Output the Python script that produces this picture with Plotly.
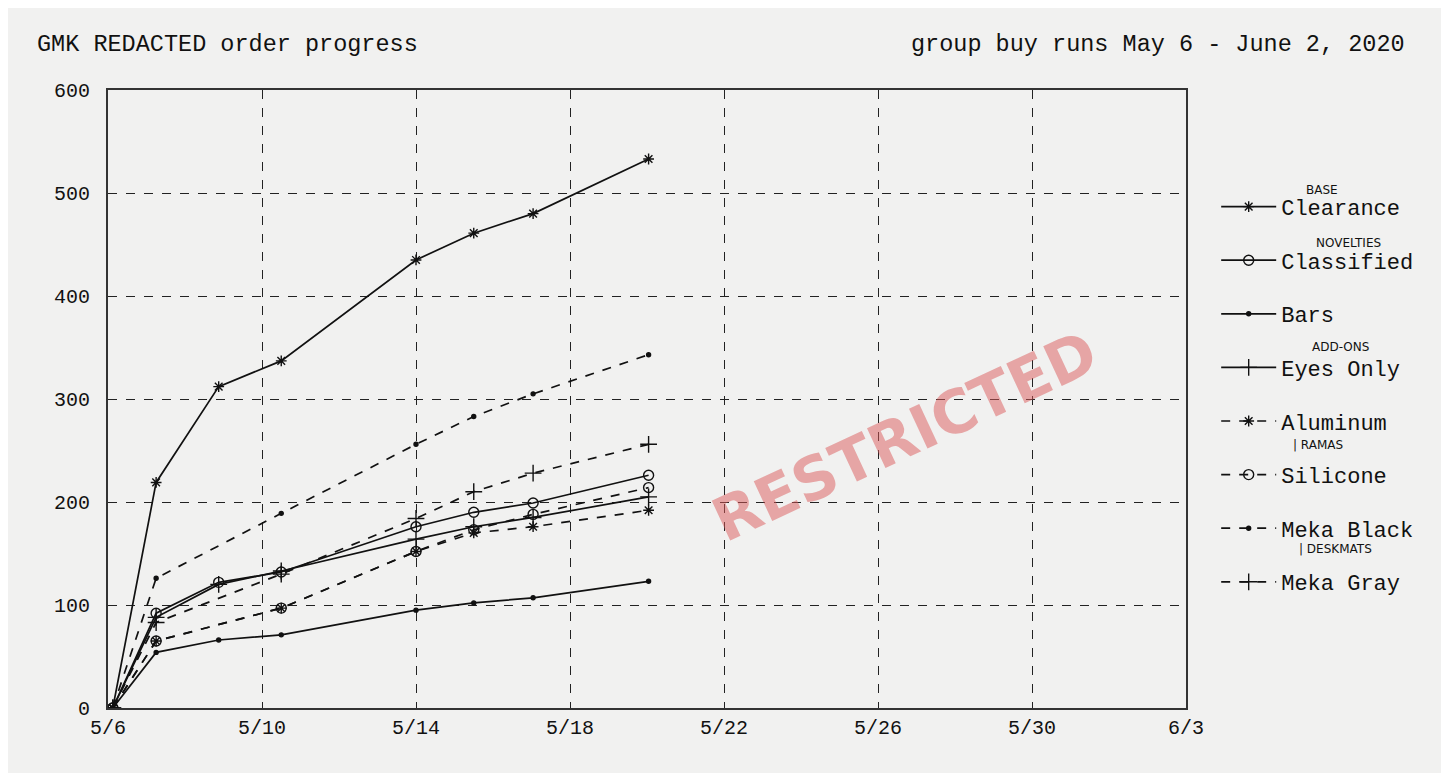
import plotly.graph_objects as go

dates_solid = ["2020-05-06 03:00", "2020-05-07 06:00", "2020-05-08 21:00", "2020-05-10 12:00",
               "2020-05-14 00:00", "2020-05-15 12:00", "2020-05-17 01:00", "2020-05-20 01:00"]
dates_dashed = ["2020-05-06 03:00", "2020-05-07 06:00", "2020-05-10 12:00",
                "2020-05-14 00:00", "2020-05-15 12:00", "2020-05-17 01:00", "2020-05-20 01:00"]

clearance = [0, 219, 312, 337, 435, 461, 480, 533]
classified = [0, 92, 122, 132, 176, 190, 199, 226]
bars = [0, 54, 66, 71, 95, 102, 107, 123]
eyes_only = [0, 88, 120, 133, 164, 176, 185, 205]
aluminum = [0, 65, 97, 152, 170, 176, 192]
silicone = [0, 65, 97, 152, 173, 188, 214]
meka_black = [0, 126, 189, 256, 283, 305, 343]
meka_gray = [0, 83, 130, 184, 210, 228, 256]

series = [
    ("Clearance", dates_solid, clearance, "solid", "asterisk-open", 9),
    ("Classified", dates_solid, classified, "solid", "circle-open", 10),
    ("Bars", dates_solid, bars, "solid", "circle", 4),
    ("Eyes Only", dates_solid, eyes_only, "solid", "cross-thin-open", 12),
    ("Aluminum", dates_dashed, aluminum, "dash", "asterisk-open", 9),
    ("Silicone", dates_dashed, silicone, "dash", "circle-open", 10),
    ("Meka Black", dates_dashed, meka_black, "dash", "circle", 4),
    ("Meka Gray", dates_dashed, meka_gray, "dash", "cross-thin-open", 12),
]

FONT = "Liberation Mono"
fig = go.Figure()
for name, x, y, dash, sym, sz in series:
    fig.add_trace(go.Scatter(
        x=x, y=y, name=name, legendgroup=name, mode="lines+markers",
        line=dict(color="#111", width=1.7, dash=dash),
        marker=dict(symbol=sym, size=sz, color="#111", line=dict(color="#111", width=1.4)),
    ))

fig.update_layout(
    width=1449, height=773,
    margin=dict(l=100, r=271, t=82, b=73),
    paper_bgcolor="#f1f1f0", plot_bgcolor="#f1f1f0",
    font=dict(family=FONT, size=20, color="#111"),
    legend=dict(x=1.028, y=0.845, yanchor="top", xanchor="left",
                bgcolor="rgba(0,0,0,0)", tracegroupgap=22,
                font=dict(size=22, family=FONT), itemwidth=55),
    showlegend=True,
)
fig.update_xaxes(
    type="date", range=["2020-05-06", "2020-06-03"],
    tickvals=["2020-05-06", "2020-05-10", "2020-05-14", "2020-05-18", "2020-05-22",
              "2020-05-26", "2020-05-30", "2020-06-03"],
    tickformat="%-m/%-d",
    showgrid=True, gridcolor="#222", griddash="dash", gridwidth=1,
    showline=True, linecolor="#333", linewidth=2, mirror=True,
    ticks="", tickfont=dict(size=20), zeroline=False,
)
fig.update_yaxes(
    range=[0, 600], dtick=100,
    showgrid=True, gridcolor="#222", griddash="dash", gridwidth=1,
    showline=True, linecolor="#333", linewidth=2, mirror=True,
    ticks="", tickfont=dict(size=20), zeroline=False, ticklabelstandoff=12,
)

fig.add_annotation(text="GMK REDACTED order progress", xref="paper", yref="paper",
                   x=-0.068, y=1.073, xanchor="left", yanchor="middle", showarrow=False,
                   font=dict(size=23.5, family=FONT))
fig.add_annotation(text="group buy runs May 6 - June 2, 2020", xref="paper", yref="paper",
                   x=1.205, y=1.073, xanchor="right", yanchor="middle", showarrow=False,
                   font=dict(size=23.5, family=FONT))
fig.add_annotation(text="<b>RESTRICTED</b>", xref="paper", yref="paper",
                   x=0.93, y=0.44, showarrow=False, textangle=-25,
                   font=dict(size=60, family="DejaVu Sans", color="rgba(220,90,90,0.5)"))

for txt, px, py in [("BASE", 1322, 190), ("NOVELTIES", 1348, 243), ("ADD-ONS", 1340, 347),
                    ("| RAMAS", 1318, 445), ("| DESKMATS", 1335, 549)]:
    fig.add_annotation(text=txt, xref="paper", yref="paper",
                       x=(px - 108) / 1078, y=(708 - py) / 618,
                       xanchor="center", yanchor="middle", showarrow=False,
                       font=dict(size=12, family="DejaVu Sans"))

fig.write_html("out.html")
